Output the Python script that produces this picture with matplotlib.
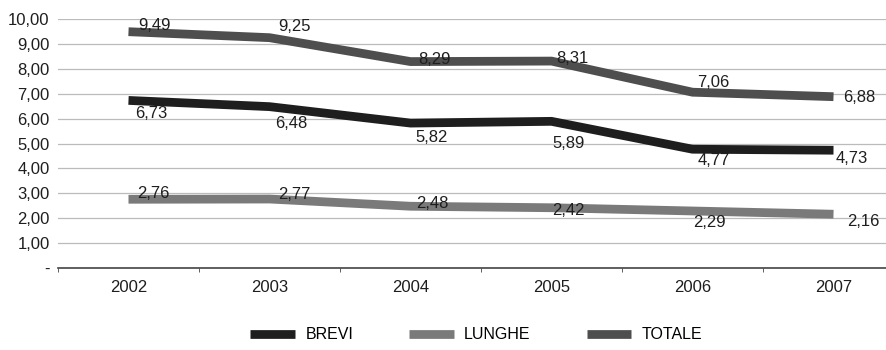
import matplotlib.pyplot as plt
import numpy as np

plt.rcParams['font.family'] = ['Liberation Sans', 'DejaVu Sans']

anni = ['2002', '2003', '2004', '2005', '2006', '2007']
brevi = [6.73, 6.48, 5.82, 5.89, 4.77, 4.73]
lunghe = [2.76, 2.77, 2.48, 2.42, 2.29, 2.16]
totale = [9.49, 9.25, 8.29, 8.31, 7.06, 6.88]

def fmt(v):
    return f'{v:.2f}'.replace('.', ',')

# label offsets in pixels (dx, dy) for each point
off_totale = [(26, 6), (25, 11), (24, 2), (21, 3), (21, 10), (26, -1)]
off_brevi = [(23, -13), (22, -17), (21, -14), (17, -22), (21, -11), (18, -8)]
off_lunghe = [(25, 6), (25, 5), (22, 3), (17, -3), (17, -12), (30, -7)]

fig = plt.figure(figsize=(8.87, 3.5), dpi=100)
ax = fig.add_axes([58 / 887, 82 / 350, 846 / 887, 249 / 350])

x = np.arange(len(anni))
series = [
    ('BREVI', brevi, '#1e1e1e', off_brevi),
    ('LUNGHE', lunghe, '#7a7a7a', off_lunghe),
    ('TOTALE', totale, '#4e4e4e', off_totale),
]
for name, vals, col, offs in series:
    ax.plot(x, vals, color=col, lw=6.3, solid_capstyle='butt', label=name)
    for xi, v, (dx, dy) in zip(x, vals, offs):
        ax.annotate(fmt(v), (xi, v), xytext=(dx, dy), textcoords='offset pixels',
                    ha='center', va='center', fontsize=12, color='#1e1e1e')

ax.set_xlim(-0.5, 5.5)
ax.set_ylim(0, 10)
ax.set_yticks(np.arange(0, 11, 1))
ax.set_yticklabels(['-'] + [fmt(v) for v in range(1, 11)])
ax.set_xticks(x)
ax.set_xticklabels(anni)
ax.set_xticks(np.arange(-0.5, 6, 1), minor=True)
ax.tick_params(axis='x', which='major', length=0, pad=9, labelsize=12, colors='#1e1e1e')
ax.tick_params(axis='x', which='minor', length=3, color='#444444', direction='out')
ax.tick_params(axis='y', length=0, pad=6, labelsize=12, colors='#1e1e1e')

ax.grid(axis='y', color='#bbbbbb', lw=0.9)
ax.set_axisbelow(True)
for s in ['top', 'right', 'left']:
    ax.spines[s].set_visible(False)
ax.spines['bottom'].set_color('#444444')
ax.spines['bottom'].set_linewidth(1.2)

fig.legend(loc='center', bbox_to_anchor=(0.537, 0.043), ncol=3, frameon=False,
           fontsize=11.5, handlelength=2.8, handletextpad=0.65, columnspacing=3.5)

fig.savefig('out.png', dpi=100)
